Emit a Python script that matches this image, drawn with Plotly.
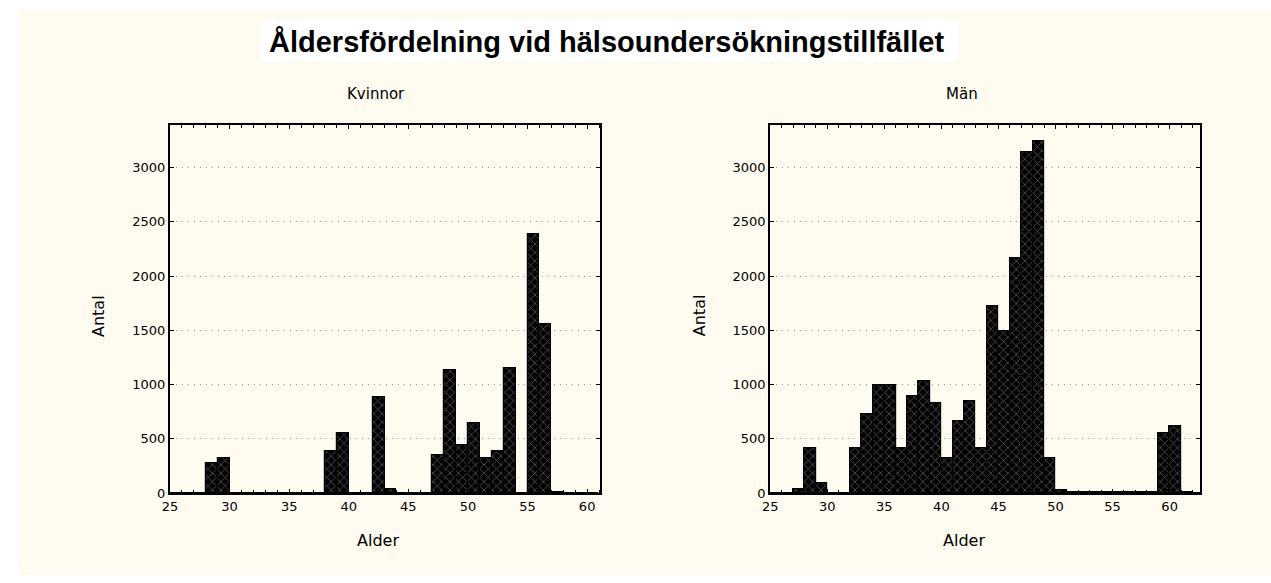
import plotly.graph_objects as go

# ---- data ----
ages_kvinnor = list(range(25, 61))
antal_kvinnor = [0, 0, 0, 280, 320, 0, 0, 0, 0, 0, 0, 0, 0, 390, 550, 0, 0, 880, 40,
                 0, 0, 0, 350, 1130, 440, 640, 320, 390, 1150, 0, 2390, 1560, 10, 3, 3, 3]
ages_man = list(range(25, 63))
antal_man = [0, 0, 40, 410, 90, 0, 0, 410, 730, 990, 990, 410, 890, 1030, 825, 320,
             665, 850, 410, 1720, 1490, 2160, 3140, 3240, 320, 30, 5, 5, 5, 5, 5, 5,
             5, 5, 550, 615, 10, 0]
x_ticks = [25, 30, 35, 40, 45, 50, 55, 60]
y_ticks = [0, 500, 1000, 1500, 2000, 2500, 3000]

title_text = "Åldersfördelning vid hälsoundersökningstillfället"
sub_titles = ["Kvinnor", "Män"]
x_title = "Alder"
y_title = "Antal"

W, H = 1271, 583
FONT = "DejaVu Sans"
TFONT = "Liberation Sans"
cream = "#FFFBF0"

def px_x(p):
    return p / W

def px_y(p):
    return 1 - p / H

fig = go.Figure()

bar_style = dict(
    marker=dict(color="black", line=dict(color="black", width=1.2),
                pattern=dict(shape="x", fgcolor="#B0B0B0", bgcolor="black",
                             size=6, solidity=0.25)),
    width=1.0, showlegend=False, hoverinfo="x+y",
)

fig.add_trace(go.Bar(x=[a + 0.5 for a in ages_kvinnor], y=antal_kvinnor,
                     xaxis="x", yaxis="y", **bar_style))
fig.add_trace(go.Bar(x=[a + 0.5 for a in ages_man], y=antal_man,
                     xaxis="x2", yaxis="y2", **bar_style))

ax_common = dict(
    showline=True, linecolor="black", linewidth=2, mirror="allticks",
    ticks="inside", ticklen=4, tickcolor="black", tickwidth=1,
    tickfont=dict(family=FONT, size=13, color="black"),
    zeroline=False,
)
xa = dict(ax_common, tickvals=x_ticks, showgrid=False,
          minor=dict(dtick=1, ticks="inside", ticklen=3, tickcolor="black", tick0=25))
ya = dict(ax_common, tickvals=y_ticks, range=[0, 3390], showgrid=True,
          gridcolor="#9A9A9A", griddash="1px,5px", gridwidth=1)

def ann(text, x, y, size, angle=0, family=FONT):
    return dict(text=text, xref="paper", yref="paper", x=px_x(x), y=px_y(y),
                xanchor="center", yanchor="middle", showarrow=False, textangle=angle,
                font=dict(family=family, size=size, color="black"))

fig.update_layout(
    width=W, height=H,
    margin=dict(l=0, r=0, t=0, b=0),
    paper_bgcolor="white", plot_bgcolor="white",
    bargap=0,
    xaxis=dict(xa, domain=[px_x(163), px_x(596)], range=[25, 61.1], anchor="y"),
    yaxis=dict(ya, domain=[px_y(500), px_y(127)], anchor="x"),
    xaxis2=dict(xa, domain=[px_x(767), px_x(1200)], range=[25, 62.7], anchor="y2"),
    yaxis2=dict(ya, domain=[px_y(500), px_y(127)], anchor="x2"),
    shapes=[
        dict(type="rect", xref="paper", yref="paper", x0=px_x(10), x1=1, y0=0, y1=px_y(10),
             fillcolor=cream, line=dict(width=0), layer="below"),
        dict(type="rect", xref="paper", yref="paper", x0=px_x(254), x1=px_x(956),
             y0=px_y(63), y1=px_y(20), fillcolor="white", line=dict(width=0), layer="below"),
    ],
    annotations=[
        ann("<b>" + title_text + "</b>", 602, 43, 29, family=TFONT),
        ann(sub_titles[0], 370, 95, 15),
        ann(sub_titles[1], 960, 95, 15),
        ann(x_title, 372, 548, 16),
        ann(x_title, 962, 548, 16),
        ann(y_title, 91, 320, 16, angle=-90),
        ann(y_title, 696, 320, 16, angle=-90),
    ],
)

fig.write_html("out.html", config={"displayModeBar": False},
               post_script="document.body.style.margin='0';")
